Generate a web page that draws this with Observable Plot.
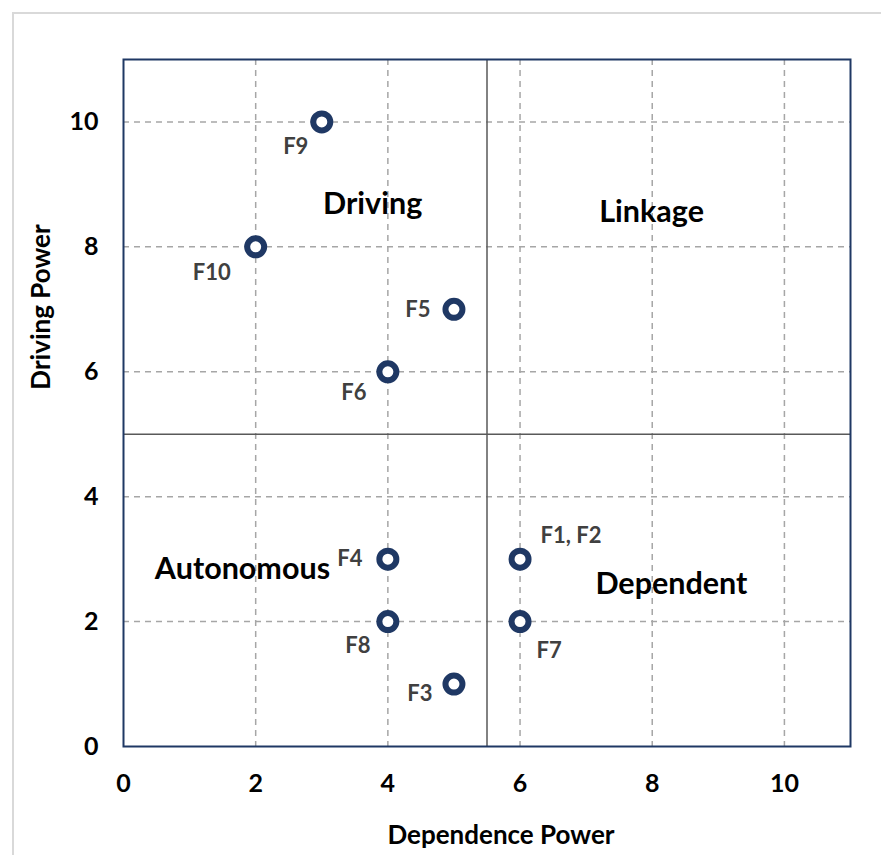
<!DOCTYPE html>
<html>
<head>
<meta charset="utf-8">
<script src="https://cdn.jsdelivr.net/npm/d3@7"></script>
<script src="https://cdn.jsdelivr.net/npm/@observablehq/plot@0.6"></script>
<style>
  html, body { margin: 0; padding: 0; background: #fff; overflow: hidden; }
  #chart { position: relative; width: 881px; height: 855px; }
</style>
</head>
<body>
<div id="chart"></div>
<script>
// ---- data ----
const factors = ["F9", "F10", "F5", "F6", "F4", "F1, F2", "F8", "F7", "F3"];
const dependence = [3, 2, 5, 4, 4, 6, 4, 6, 5];
const driving = [10, 8, 7, 6, 3, 3, 2, 2, 1];

const quadrantNames = ["Driving", "Linkage", "Autonomous", "Dependent"];
const quadrantX = [3.77, 7.99, 1.8, 8.29];
const quadrantY = [8.69, 8.56, 2.84, 2.6];

const tickValues = [0, 2, 4, 6, 8, 10];
const gridValues = [2, 4, 6, 8, 10];
const splitX = 5.5;
const splitY = 5;

const xTitle = "Dependence Power";
const yTitle = "Driving Power";

// ---- label placement (pixel offsets from each point) ----
const labelPlacement = {
  "F9": [-26, 25], "F10": [-44, 26], "F5": [-36, 1], "F6": [-34, 21], "F4": [-38, 0],
  "F1, F2": [51, -23], "F8": [-30, 24], "F7": [29, 29], "F3": [-34, 10]
};

// ---- build ----
const pts = factors.map((f, i) => ({ name: f, x: dependence[i], y: driving[i] }));
const quads = quadrantNames.map((q, i) => ({ name: q, x: quadrantX[i], y: quadrantY[i] }));

const navy = "#1f3864";
const font = "Lato, 'Open Sans', sans-serif";

const chart = Plot.plot({
  width: 881,
  height: 855,
  marginLeft: 123,
  marginRight: 31,
  marginTop: 59,
  marginBottom: 109,
  style: { fontFamily: font, background: "white" },
  x: { domain: [0, 11], ticks: tickValues, label: null },
  y: { domain: [0, 11], ticks: tickValues, label: null },
  marks: [
    Plot.gridX(gridValues, { stroke: "#a6a6a6", strokeOpacity: 1, strokeDasharray: "6,5", strokeWidth: 1.5 }),
    Plot.gridY(gridValues, { stroke: "#a6a6a6", strokeOpacity: 1, strokeDasharray: "6,5", strokeWidth: 1.5 }),
    Plot.ruleX([splitX], { stroke: "#595959", strokeWidth: 1.5 }),
    Plot.ruleY([splitY], { stroke: "#595959", strokeWidth: 1.5 }),
    Plot.frame({ stroke: navy, strokeWidth: 2 }),
    Plot.axisX(tickValues, { tickSize: 0, tickPadding: 28, fontSize: 25, fontWeight: "bold", fill: "black", label: null, tickFormat: d3.format("d") }),
    Plot.axisY(tickValues, { tickSize: 0, tickPadding: 25, fontSize: 25, fontWeight: "bold", fill: "black", label: null, tickFormat: d3.format("d") }),
    Plot.dot(pts, { x: "x", y: "y", r: 8.5, stroke: navy, strokeWidth: 6, fill: "white" }),
    Plot.text(pts, { x: "x", y: "y", text: "name", fontSize: 22, fontWeight: "bold", fill: "#404040" }),
    Plot.text(quads, { x: "x", y: "y", text: "name", fontSize: 30.5, fontWeight: "bold", fill: "black" })
  ]
});
document.getElementById("chart").appendChild(chart);

// apply per-label offsets
const svg = d3.select(chart);
const textGroups = svg.selectAll("g[aria-label='text']");
d3.select(textGroups.nodes()[0]).selectAll("text").each(function(_, i) {
  const off = labelPlacement[pts[i].name];
  d3.select(this).attr("dx", off[0]).attr("dy", off[1]);
});

// outer border
svg.insert("rect", ":first-child")
  .attr("x", 13).attr("y", 13).attr("width", 900).attr("height", 900)
  .attr("fill", "none").attr("stroke", "#d9d9d9").attr("stroke-width", 2);

// axis titles
svg.append("text").text(xTitle)
  .attr("x", 501).attr("y", 837).attr("text-anchor", "middle").attr("dominant-baseline", "middle")
  .attr("font-family", font).attr("font-size", 26).attr("font-weight", "bold");
svg.append("text").text(yTitle)
  .attr("transform", "translate(43,307) rotate(-90)").attr("text-anchor", "middle").attr("dominant-baseline", "middle")
  .attr("font-family", font).attr("font-size", 26).attr("font-weight", "bold");
</script>
</body>
</html>
